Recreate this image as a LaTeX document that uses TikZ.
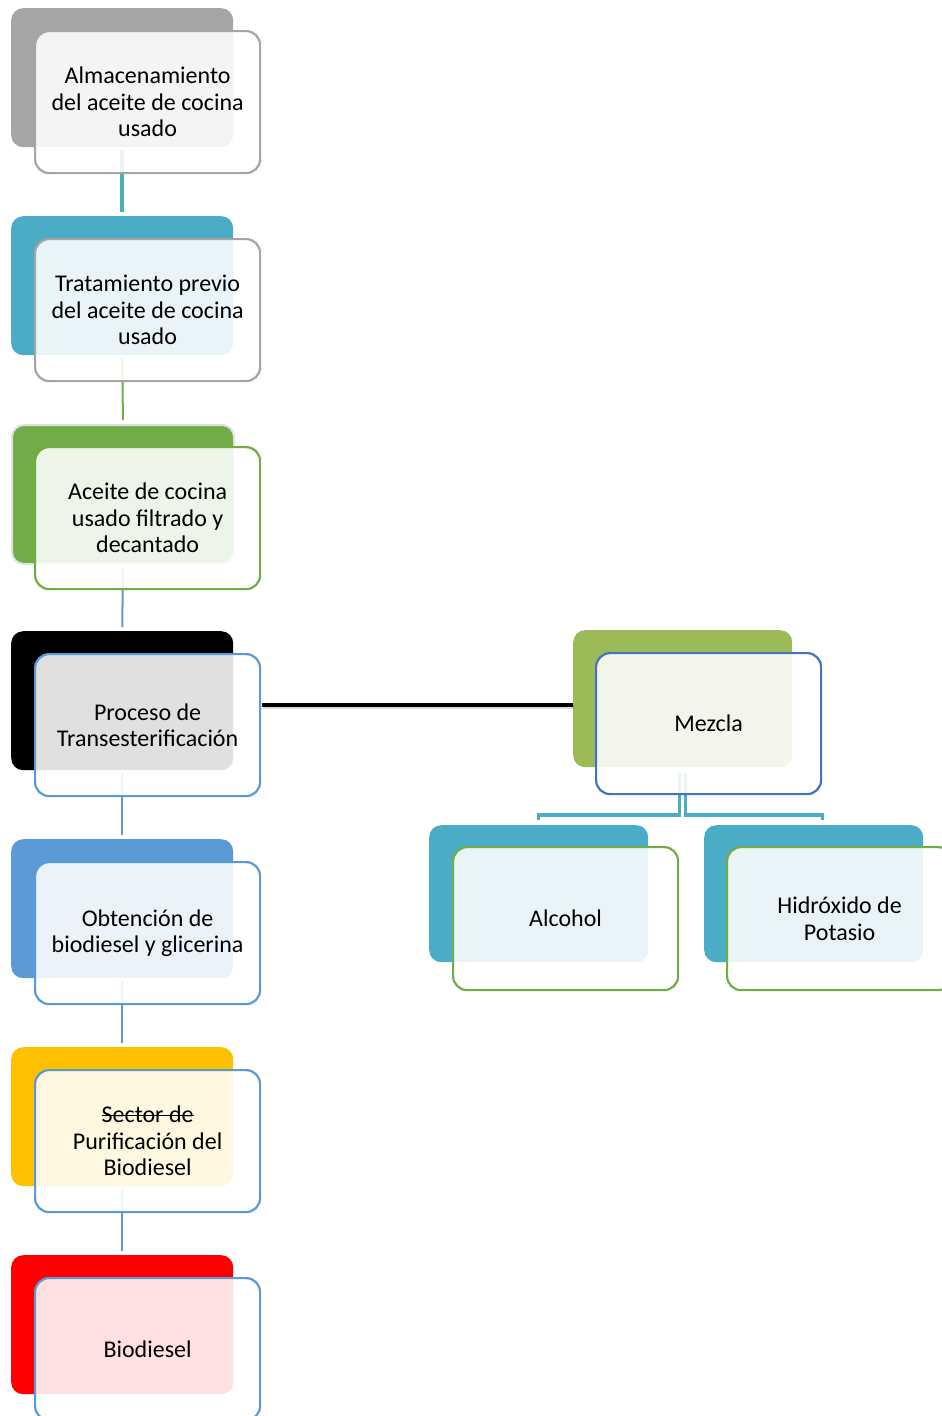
\documentclass[tikz,border=0pt]{standalone}
\usepackage{fontspec}
\setmainfont{Carlito}
\usetikzlibrary{calc}
\definecolor{cgray}{HTML}{A5A5A5}
\definecolor{cteal}{HTML}{4BACC6}
\definecolor{cgreen}{HTML}{70AD47}
\definecolor{cblue}{HTML}{5B9BD5}
\definecolor{cyellow}{HTML}{FFC000}
\definecolor{cred}{HTML}{FF0000}
\definecolor{colive}{HTML}{9BBB59}
\definecolor{cdblue}{HTML}{4472C4}
\newsavebox{\mystrikebox}
\newcommand{\mystrike}[1]{\sbox{\mystrikebox}{#1}\rlap{\usebox{\mystrikebox}}\rule[0.27em]{\wd\mystrikebox}{0.06em}}
\begin{document}
\begin{tikzpicture}[x=1pt,y=-1pt,
  back/.style={anchor=north west, rectangle, rounded corners=12pt, minimum width=222pt, minimum height=139pt, inner sep=0pt},
  sback/.style={back, minimum width=219pt, minimum height=137pt},
  front/.style={anchor=north west, rectangle, rounded corners=14pt, minimum width=225pt, minimum height=142pt, inner sep=0pt, fill=white, fill opacity=0.88, text opacity=1, line width=2.2pt, align=center, font=\fontsize{24}{26.5}\selectfont},
  link/.style={line width=2pt, shorten <=3pt, shorten >=4pt},
  br/.style={line width=3.5pt, cteal},
  ]
\useasboundingbox (0,0) rectangle (942,1416);

% back rectangles
\node[back, fill=cgray] (b1) at (11,8) {};
\node[back, fill=cteal] (b2) at (11,216) {};
\node[back, fill=cgreen, draw=black!12, line width=2pt] (b3) at (11,424) {};
\node[back, fill=black] (b4) at (11,631) {};
\node[back, fill=cblue] (b5) at (11,839) {};
\node[back, fill=cyellow] (b6) at (11,1047) {};
\node[back, fill=cred] (b7) at (11,1255) {};
\node[sback, fill=colive] (bm) at (573,630) {};
\node[sback, fill=cteal] (ba) at (429,825) {};
\node[sback, fill=cteal] (bh) at (704,825) {};

% connectors
\draw[link, cteal, line width=4pt] (b1.south) -- (b2.north);
\draw[link, cgreen] (b2.south) -- (b3.north);
\draw[link, cblue] (b3.south) -- (b4.north);
\draw[link, cblue] (b4.south) -- (b5.north);
\draw[link, cblue] (b5.south) -- (b6.north);
\draw[link, cblue] (b6.south) -- (b7.north);

\draw[br] ([xshift=-3pt,yshift=-6pt]bm.south) |- ([yshift=10pt]ba.north) -- ([yshift=5pt]ba.north);
\draw[br] ([xshift=3pt,yshift=-6pt]bm.south) |- ([xshift=9pt,yshift=10pt]bh.north) -- ([xshift=9pt,yshift=5pt]bh.north);

% front rectangles
\node[front, draw=cgray] (f1) at (34,30) {Almacenamiento\\del aceite de cocina\\usado};
\node[front, draw=cgray] (f2) at (34,238) {Tratamiento previo\\del aceite de cocina\\usado};
\node[front, draw=cgreen] (f3) at (34,446) {Aceite de cocina\\usado filtrado y\\decantado};
\node[front, draw=cblue] (f4) at (34,653) {Proceso de\\Transesterificación};
\node[front, draw=cblue] (f5) at (34,861) {Obtención de\\biodiesel y glicerina};
\node[front, draw=cblue] (f6) at (34,1069) {\mystrike{Sector de}\\Purificación del\\Biodiesel};
\node[front, draw=cblue] (f7) at (34,1277) {Biodiesel};
\node[front, draw=cdblue, minimum height=141pt] (fm) at (595,652) {Mezcla};
\node[front, draw=cgreen, minimum height=143pt] (fa) at (452,846) {Alcohol};
\node[front, draw=cgreen, minimum height=143pt] (fh) at (726,846) {Hidróxido de\\Potasio};

% horizontal link
\coordinate (hl) at (262,705);
\draw[line width=4pt, black, opacity=0.15] ([shift={(1pt,-2pt)}]hl) -- ([shift={(1pt,-2pt)}]bm.west |- hl);
\draw[line width=4pt, black] (hl) -- (bm.west |- hl);
\end{tikzpicture}
\end{document}
